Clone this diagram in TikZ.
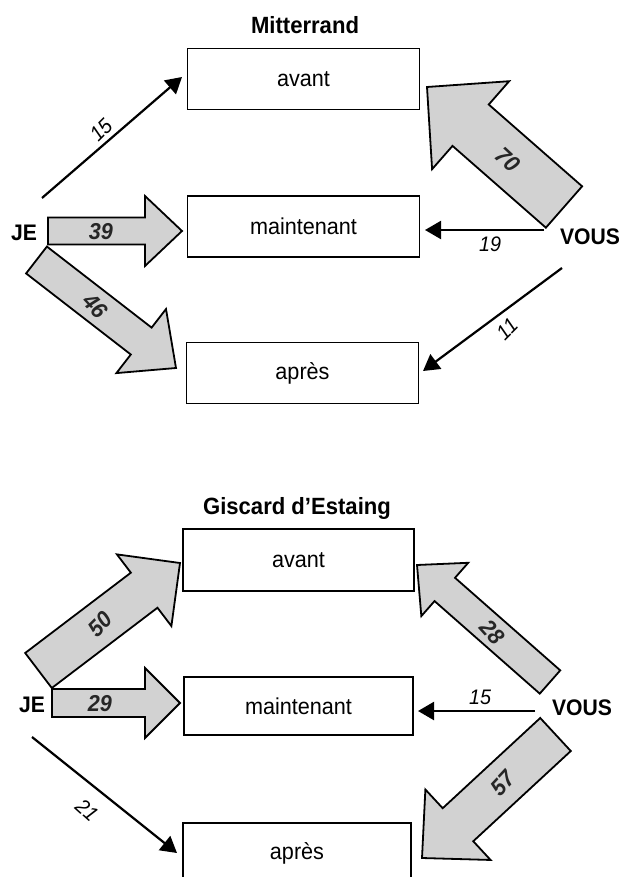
\documentclass[tikz,border=0pt]{standalone}
\usepackage{fontspec}
\setmainfont{Liberation Sans}[FakeStretch=0.94]
\usetikzlibrary{calc,arrows.meta}

% fat arrow: #1 tail middle, #2 tip, #3 shaft half width, #4 head half width, #5 head length
\newcommand\fatarr[5]{%
  \coordinate (fb) at ($(#2)!#5!(#1)$);
  \draw[fatarrow] ($(#1)!#3!90:(#2)$) -- ($(fb)!#3!90:(#2)$) -- ($(fb)!#4!90:(#2)$) -- (#2)
    -- ($(fb)!#4!-90:(#2)$) -- ($(fb)!#3!-90:(#2)$) -- ($(#1)!#3!-90:(#2)$) -- cycle;}

\begin{document}
\begin{tikzpicture}[x=1pt,y=-1pt,
  box/.style={draw, line width=1.5pt, minimum width=232pt, minimum height=61pt, inner sep=0pt,
    font=\fontsize{23}{26}\selectfont},
  titletext/.style={font=\fontsize{23.5}{26}\selectfont\bfseries},
  side/.style={font=\fontsize{22.5}{26}\selectfont\bfseries},
  fatarrow/.style={draw, line width=1.8pt, fill=gray!35, line join=miter},
  fatlabel/.style={font=\fontsize{23}{26}\selectfont\bfseries\itshape, text=black!85},
  thinarrow/.style={line width=2.2pt, -{Triangle[length=16pt,width=18pt]}},
  numlabel/.style={font=\fontsize{21}{24}\selectfont\itshape}]

\useasboundingbox (0,0) rectangle (622,877);
\clip (0,0) rectangle (622,877);

% ---------------- Mitterrand ----------------
\node[titletext] (t1) at (305,25) {Mitterrand};
\node[box] (avant1) at (303.5,79) {avant};
\node[box] (maint1) at (303.5,226.5) {maintenant};
\node[box] (apres1) at (302.5,373) {après};
\node[side] (je1) at (24,233) {JE};
\node[side] (vous1) at (590,237) {VOUS};

\coordinate (a39t) at (48,231); \coordinate (a39h) at (182,231);
\fatarr{a39t}{a39h}{13.5pt}{35pt}{37pt}
\node[fatlabel] (l39) at (101,232) {39};

\coordinate (a46t) at (36.5,260); \coordinate (a46h) at (176,368);
\fatarr{a46t}{a46h}{17pt}{40.5pt}{44pt}
\node[fatlabel, rotate=-47] (l46) at (95,306) {46};

\coordinate (a70t) at (564,207); \coordinate (a70h) at (427,87);
\fatarr{a70t}{a70h}{27.5pt}{58.5pt}{58pt}
\node[fatlabel, rotate=-43] (l70) at (508,160) {70};

\coordinate (s15a) at (42,198); \coordinate (e15a) at (182,77);
\draw[thinarrow] (s15a) -- (e15a);
\node[numlabel, rotate=45] (l15a) at (101,130) {15};

\coordinate (s19) at (544,230); \coordinate (e19) at (425,230);
\draw[thinarrow] (s19) -- (e19);
\node[numlabel] (l19) at (490,244) {19};

\coordinate (s11) at (562,268); \coordinate (e11) at (423,371);
\draw[thinarrow] (s11) -- (e11);
\node[numlabel, rotate=45] (l11) at (507,329) {11};

% ---------------- Giscard d'Estaing ----------------
\node[titletext] (t2) at (297,508) {Giscard d’Estaing};
\node[box, minimum width=231pt, minimum height=62pt] (avant2) at (298.5,560) {avant};
\node[box, minimum width=229pt, minimum height=58pt] (maint2) at (298.5,706) {maintenant};
\node[box, minimum width=228pt, minimum height=60pt] (apres2) at (297,853) {après};
\node[side] (je2) at (32,705) {JE};
\node[side] (vous2) at (582,708) {VOUS};

\coordinate (a50t) at (38.5,670.5); \coordinate (a50h) at (180,563);
\fatarr{a50t}{a50h}{22pt}{45pt}{45pt}
\node[fatlabel, rotate=45] (l50) at (100,624) {50};

\coordinate (a29t) at (52,703); \coordinate (a29h) at (180,703);
\fatarr{a29t}{a29h}{14pt}{35pt}{35pt}
\node[fatlabel] (l29) at (100,704) {29};

\coordinate (a28t) at (550,682); \coordinate (a28h) at (417,565);
\fatarr{a28t}{a28h}{15.5pt}{35.5pt}{37pt}
\node[fatlabel, rotate=-48] (l28) at (492,632) {28};

\coordinate (a57t) at (555.5,734.5); \coordinate (a57h) at (422,858);
\fatarr{a57t}{a57h}{22.5pt}{48pt}{49pt}
\node[fatlabel, rotate=47] (l57) at (503,783) {57};

\coordinate (s15b) at (535,711); \coordinate (e15b) at (418,711);
\draw[thinarrow] (s15b) -- (e15b);
\node[numlabel] (l15b) at (480,697) {15};

\coordinate (s21) at (32,737); \coordinate (e21) at (177,853);
\draw[thinarrow] (s21) -- (e21);
\node[numlabel, rotate=-42] (l21) at (87,810) {21};

\end{tikzpicture}
\end{document}
